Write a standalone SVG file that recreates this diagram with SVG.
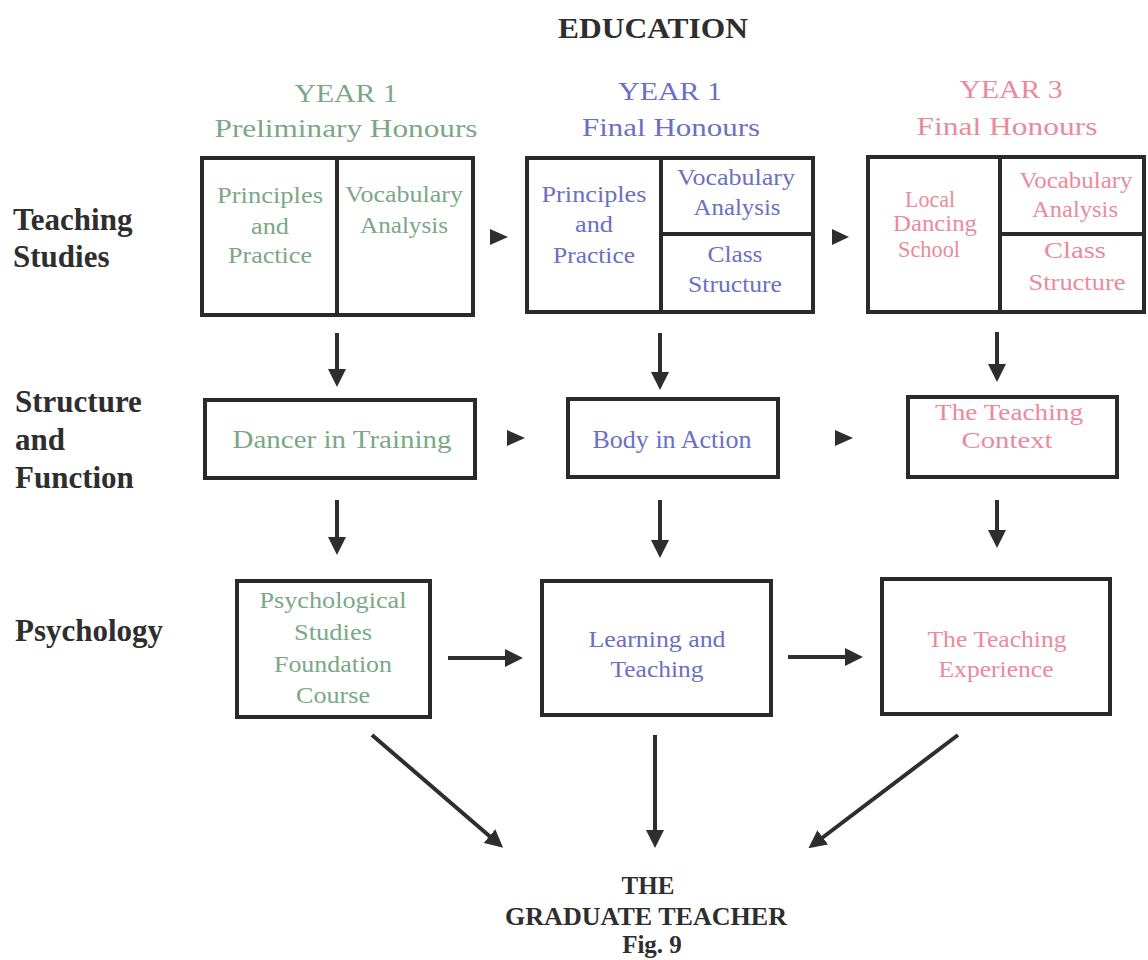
<svg xmlns="http://www.w3.org/2000/svg" width="1148" height="960" viewBox="0 0 1148 960">
<style>
text{font-family:"Liberation Serif","Times New Roman",serif;text-anchor:middle}
.lbl{font-weight:bold;font-size:31px;fill:#2e2e2e;text-anchor:start}
.ttl{font-weight:bold;fill:#2e2e2e}
.g{fill:#7aa886}
.b{fill:#6a70c4}
.p{fill:#ec8a9c}
.hd{font-size:26px}
.tx{font-size:23px}
.tm{font-size:26px}
.box{fill:none;stroke:#2a2a2a;stroke-width:4}
.div{stroke:#2a2a2a;stroke-width:4}
.con{stroke:#2e2e2e;stroke-width:4;fill:none;marker-end:url(#ah)}
.tri{fill:#2e2e2e}
</style>
<defs>
<marker id="ah" markerUnits="userSpaceOnUse" markerWidth="18" markerHeight="18" refX="6" refY="9" orient="auto">
<path d="M0,0 L18,9 L0,18 z" fill="#2e2e2e"/>
</marker>
</defs>
<rect width="1148" height="960" fill="#ffffff"/>

<text class="ttl" x="653" y="38" font-size="30" textLength="190" lengthAdjust="spacingAndGlyphs">EDUCATION</text>

<g id="row-labels">
<text class="lbl" x="13" y="230">Teaching</text>
<text class="lbl" x="13" y="267">Studies</text>
<text class="lbl" x="15" y="412">Structure</text>
<text class="lbl" x="15" y="450">and</text>
<text class="lbl" x="15" y="488">Function</text>
<text class="lbl" x="15" y="641">Psychology</text>
</g>

<g id="headers">
<text class="hd g" x="346" y="102" textLength="103" lengthAdjust="spacingAndGlyphs">YEAR 1</text>
<text class="hd g" x="346" y="137" textLength="263" lengthAdjust="spacingAndGlyphs">Preliminary Honours</text>
<text class="hd b" x="670" y="100" textLength="104" lengthAdjust="spacingAndGlyphs">YEAR 1</text>
<text class="hd b" x="671" y="136" textLength="178" lengthAdjust="spacingAndGlyphs">Final Honours</text>
<text class="hd p" x="1011" y="98" textLength="103" lengthAdjust="spacingAndGlyphs">YEAR 3</text>
<text class="hd p" x="1007" y="135" textLength="181" lengthAdjust="spacingAndGlyphs">Final Honours</text>
</g>

<g id="ts-year1">
<rect class="box" x="202" y="158" width="271" height="157"/>
<line class="div" x1="337" y1="158" x2="337" y2="315"/>
<text class="tx g" x="270" y="203" textLength="106" lengthAdjust="spacingAndGlyphs">Principles</text>
<text class="tx g" x="270" y="234" textLength="38" lengthAdjust="spacingAndGlyphs">and</text>
<text class="tx g" x="270" y="263" textLength="84" lengthAdjust="spacingAndGlyphs">Practice</text>
<text class="tx g" x="404" y="202" textLength="118" lengthAdjust="spacingAndGlyphs">Vocabulary</text>
<text class="tx g" x="404" y="233" textLength="88" lengthAdjust="spacingAndGlyphs">Analysis</text>
</g>

<g id="ts-year2">
<rect class="box" x="527" y="158" width="286" height="154"/>
<line class="div" x1="661" y1="158" x2="661" y2="312"/>
<line class="div" x1="661" y1="234" x2="813" y2="234"/>
<text class="tx b" x="594" y="202" textLength="105" lengthAdjust="spacingAndGlyphs">Principles</text>
<text class="tx b" x="594" y="232" textLength="38" lengthAdjust="spacingAndGlyphs">and</text>
<text class="tx b" x="594" y="263" textLength="82" lengthAdjust="spacingAndGlyphs">Practice</text>
<text class="tx b" x="736" y="185" textLength="118" lengthAdjust="spacingAndGlyphs">Vocabulary</text>
<text class="tx b" x="737" y="215" textLength="87" lengthAdjust="spacingAndGlyphs">Analysis</text>
<text class="tx b" x="735" y="262" textLength="55" lengthAdjust="spacingAndGlyphs">Class</text>
<text class="tx b" x="735" y="292" textLength="94" lengthAdjust="spacingAndGlyphs">Structure</text>
</g>

<g id="ts-year3">
<text class="tx p" x="930" y="207" textLength="50" lengthAdjust="spacingAndGlyphs">Local</text>
<text class="tx p" x="935" y="231" textLength="84" lengthAdjust="spacingAndGlyphs">Dancing</text>
<text class="tx p" x="929" y="257" textLength="62" lengthAdjust="spacingAndGlyphs">School</text>
<text class="tx p" x="1076" y="188" textLength="113" lengthAdjust="spacingAndGlyphs">Vocabulary</text>
<text class="tx p" x="1075" y="217" textLength="86" lengthAdjust="spacingAndGlyphs">Analysis</text>
<text class="tx p" x="1075" y="258" textLength="62" lengthAdjust="spacingAndGlyphs">Class</text>
<text class="tx p" x="1077" y="290" textLength="97" lengthAdjust="spacingAndGlyphs">Structure</text>
<rect class="box" x="868" y="157" width="276" height="155"/>
<line class="div" x1="1000" y1="157" x2="1000" y2="312"/>
<line class="div" x1="1000" y1="234" x2="1144" y2="234"/>
</g>

<g id="sf-year1">
<rect class="box" x="205" y="400" width="270" height="78"/>
<text class="tm g" x="342" y="448" textLength="219" lengthAdjust="spacingAndGlyphs">Dancer in Training</text>
</g>

<g id="sf-year2">
<rect class="box" x="568" y="399" width="210" height="78"/>
<text class="tm b" x="672" y="448" textLength="159" lengthAdjust="spacingAndGlyphs">Body in Action</text>
</g>

<g id="sf-year3">
<rect class="box" x="908" y="397" width="209" height="80"/>
<text class="tx p" x="1009" y="420" textLength="148" lengthAdjust="spacingAndGlyphs">The Teaching</text>
<text class="tx p" x="1007" y="448" textLength="91" lengthAdjust="spacingAndGlyphs">Context</text>
</g>

<g id="ps-year1">
<rect class="box" x="237" y="581" width="193" height="136"/>
<text class="tx g" x="333" y="608" textLength="147" lengthAdjust="spacingAndGlyphs">Psychological</text>
<text class="tx g" x="333" y="640" textLength="78" lengthAdjust="spacingAndGlyphs">Studies</text>
<text class="tx g" x="333" y="672" textLength="118" lengthAdjust="spacingAndGlyphs">Foundation</text>
<text class="tx g" x="333" y="703" textLength="74" lengthAdjust="spacingAndGlyphs">Course</text>
</g>

<g id="ps-year2">
<rect class="box" x="542" y="581" width="229" height="134"/>
<text class="tx b" x="657" y="647" textLength="137" lengthAdjust="spacingAndGlyphs">Learning and</text>
<text class="tx b" x="657" y="677" textLength="93" lengthAdjust="spacingAndGlyphs">Teaching</text>
</g>

<g id="ps-year3">
<rect class="box" x="882" y="579" width="228" height="135"/>
<text class="tx p" x="997" y="647" textLength="139" lengthAdjust="spacingAndGlyphs">The Teaching</text>
<text class="tx p" x="996" y="677" textLength="115" lengthAdjust="spacingAndGlyphs">Experience</text>
</g>

<g id="graduate">
<text class="ttl" x="648" y="894" font-size="25">THE</text>
<text class="ttl" x="646" y="925" font-size="25" textLength="282" lengthAdjust="spacingAndGlyphs">GRADUATE TEACHER</text>
<text class="ttl" x="652" y="953" font-size="25">Fig. 9</text>
</g>

<g id="connectors">
<polygon class="tri" points="490,229 508,237 490,245"/>
<polygon class="tri" points="832,229 849,237 832,245"/>
<polygon class="tri" points="507,430 525,438 507,446"/>
<polygon class="tri" points="835,430 853,438 835,446"/>
<line class="con" x1="337" y1="333" x2="337" y2="375"/>
<line class="con" x1="660" y1="333" x2="660" y2="378"/>
<line class="con" x1="997" y1="332" x2="997" y2="370"/>
<line class="con" x1="337" y1="500" x2="337" y2="543"/>
<line class="con" x1="660" y1="500" x2="660" y2="546"/>
<line class="con" x1="997" y1="500" x2="997" y2="536"/>
<line class="con" x1="448" y1="658" x2="511" y2="658"/>
<line class="con" x1="788" y1="657" x2="851" y2="657"/>
<line class="con" x1="372" y1="735" x2="494" y2="840"/>
<line class="con" x1="655" y1="735" x2="655" y2="836"/>
<line class="con" x1="958" y1="735" x2="818" y2="841"/>
</g>
</svg>
